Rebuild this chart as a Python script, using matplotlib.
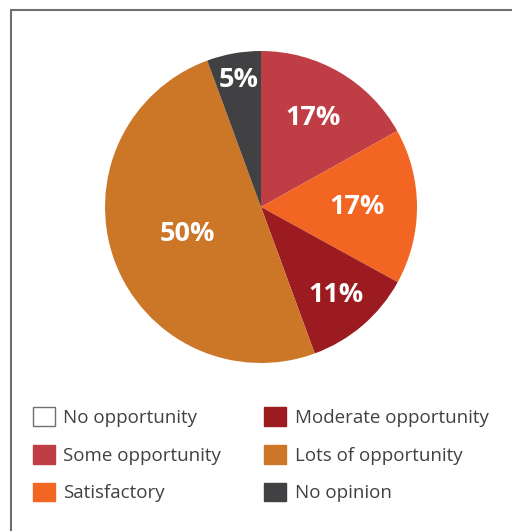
import matplotlib
matplotlib.use("Agg")
import matplotlib.pyplot as plt
from matplotlib.patches import Patch, Rectangle
import numpy as np

categories = ["No opportunity", "Some opportunity", "Satisfactory",
              "Moderate opportunity", "Lots of opportunity", "No opinion"]
values = [0, 16.9, 16.1, 11.4, 50.0, 5.6]
value_labels = ["0%", "17%", "17%", "11%", "50%", "5%"]
colors = ["#FFFFFF", "#BF3E46", "#F26522", "#9B1B20", "#CC7627", "#414042"]
label_radius = [0.0, 0.66, 0.615, 0.74, 0.5, 0.83]

plt.rcParams['font.family'] = ['Open Sans', 'DejaVu Sans']

W, H = 512, 531
fig = plt.figure(figsize=(W / 100, H / 100), dpi=100)

# border
fig.add_artist(Rectangle((11 / W, -0.05), 1.2, 1.05 - 10 / H, transform=fig.transFigure,
                         fill=False, edgecolor="#6f6f6f", linewidth=1.5))

cx, cy, r = 261, 207, 156
ax = fig.add_axes([(cx - r) / W, (H - cy - r) / H, 2 * r / W, 2 * r / H])
wedges, _ = ax.pie(values, colors=colors, startangle=90, counterclock=False,
                   radius=1, wedgeprops=dict(linewidth=0))
ax.set_xlim(-1, 1)
ax.set_ylim(-1, 1)
ax.set_aspect('equal')
ax.axis('off')

for w, v, lab, rf in zip(wedges, values, value_labels, label_radius):
    if v <= 0:
        continue
    th = np.deg2rad((w.theta1 + w.theta2) / 2)
    ax.text(rf * np.cos(th), rf * np.sin(th), lab, ha='center', va='center',
            color='white', fontsize=19.5, fontweight='bold')

handles = [Patch(facecolor=c, edgecolor=("#6f6f6f" if v == 0 else c), linewidth=1.0)
           for c, v in zip(colors, values)]
leg = fig.legend(handles, categories, ncol=2, loc='upper left',
                 bbox_to_anchor=(33 / W, 1 - 407 / H), frameon=False,
                 fontsize=13.5, handlelength=1.17, handleheight=1.17,
                 handletextpad=0.45, columnspacing=2.3, labelspacing=0.96,
                 borderaxespad=0, borderpad=0)
for t in leg.get_texts():
    t.set_color("#414042")

fig.savefig("out.png", dpi=100)
